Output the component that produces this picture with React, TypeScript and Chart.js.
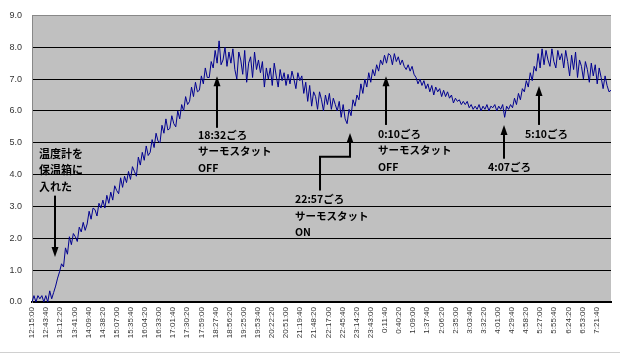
import { useEffect, useRef } from 'react';
import { Chart, registerables } from 'chart.js';

Chart.register(...registerables);

// x-axis tick labels (one every 28:40)
const TICK_LABELS = [
  '12:15:00', '12:43:40', '13:12:20', '13:41:00', '14:09:40', '14:38:20', '15:07:00', '15:35:40',
  '16:04:20', '16:33:00', '17:01:40', '17:30:20', '17:59:00', '18:27:40', '18:56:20', '19:25:00',
  '19:53:40', '20:22:20', '20:51:00', '21:19:40', '21:48:20', '22:17:00', '22:45:40', '23:14:20',
  '23:43:00', '0:11:40', '0:40:20', '1:09:00', '1:37:40', '2:06:20', '2:35:00', '3:03:40',
  '3:32:20', '4:01:00', '4:29:40', '4:58:20', '5:27:00', '5:55:40', '6:24:20', '6:53:00', '7:21:40',
];
const TICK_SEC = 1720; // 28 min 40 s between labels
const SAMPLE_SEC = 240; // one reading every 4 minutes

// temperature readings from 12:15:00
const TEMPS = [
  0.0, 0.2, 0.0, 0.2, 0.1, 0.2, 0.0, 0.2, 0.0, 0.35,
  0.1, 0.3, 0.5, 0.75, 0.95, 1.2, 1.1, 1.7, 1.5, 2.05,
  1.8, 2.15, 2.05, 1.9, 2.35, 2.2, 2.5, 2.25, 2.45, 2.85,
  2.6, 2.95, 2.9, 2.7, 3.1, 2.95, 3.2, 2.95, 3.35, 3.1,
  3.45, 3.2, 3.65, 3.5, 3.4, 3.9, 3.6, 3.95, 3.75, 4.1,
  3.85, 4.25, 4.1, 3.95, 4.55, 4.3, 4.7, 4.45, 4.9, 4.6,
  4.7, 5.1, 4.85, 5.3, 5.05, 5.0, 5.55, 5.3, 5.75, 5.4,
  5.45, 5.85, 5.6, 5.5, 6.0, 5.75, 6.2, 6.0, 6.45, 6.2,
  6.3, 6.75, 6.45, 6.9, 6.6, 6.65, 7.1, 6.85, 7.35, 7.05,
  7.05, 7.55, 7.35, 7.9, 7.5, 8.2, 7.45, 7.6, 8.0, 7.4,
  7.85, 7.5, 7.95, 7.3, 7.0, 7.85, 7.6, 7.15, 7.9, 6.9,
  7.5, 7.7, 7.05, 7.85, 7.3, 7.6, 7.2, 7.55, 6.75, 7.35,
  7.0, 7.35, 6.8, 7.5, 7.1, 6.75, 7.3, 6.95, 7.2, 6.8,
  7.15, 6.85, 7.25, 7.0, 6.7, 7.2, 6.95, 7.1, 6.55, 6.9,
  6.3, 6.8, 6.15, 6.6, 6.45, 6.05, 6.6, 6.35, 6.0, 6.5,
  6.2, 6.55, 6.05, 6.4, 6.2, 6.0, 6.3, 5.8, 6.2, 5.75,
  5.6, 6.05, 5.85, 6.35, 6.15, 6.5, 6.35, 6.85, 6.55, 7.0,
  6.75, 7.2, 6.9, 7.3, 7.1, 7.45, 7.25, 7.6, 7.45, 7.75,
  7.5, 7.8, 7.75, 7.45, 7.8, 7.55, 7.7, 7.45, 7.6, 7.4,
  7.3, 7.45, 7.25, 7.4, 7.15, 7.05, 6.85, 7.0, 6.8, 6.95,
  6.7, 6.85, 6.6, 6.8, 6.5, 6.75, 6.6, 6.7, 6.45, 6.65,
  6.45, 6.6, 6.4, 6.5, 6.25, 6.4, 6.3, 6.35, 6.2, 6.3,
  6.2, 6.3, 6.1, 6.2, 6.05, 6.15, 6.05, 6.2, 6.0, 6.15,
  6.05, 6.2, 6.0, 6.15, 6.1, 6.2, 6.0, 6.15, 6.05, 6.2,
  5.8, 6.15, 6.05, 6.2, 6.1, 6.4, 6.2, 6.55, 6.35, 6.7,
  6.6, 6.95, 6.75, 7.2, 6.95, 7.4, 7.25, 7.8, 7.35, 7.95,
  7.45, 7.9, 7.6, 7.4, 7.95, 7.55, 7.35, 7.9, 7.6, 7.8,
  7.35, 7.9, 7.55, 7.1, 7.75, 7.3, 7.85, 7.05, 7.6, 7.4,
  7.0, 7.55, 7.3, 6.9, 7.5, 7.1, 7.45, 6.85, 7.35, 7.05,
  6.7, 7.1, 6.8, 6.6, 6.65,
];

// annotations: text anchor (seconds, value) and arrow path (seconds, value), last point = tip
const NOTE_LINES = [
  ['温度計を', '保温箱に', '入れた'],
  ['18:32ごろ', 'サーモスタット', 'OFF'],
  ['22:57ごろ', 'サーモスタット', 'ON'],
  ['0:10ごろ', 'サーモスタット', 'OFF'],
  ['4:07ごろ'],
  ['5:10ごろ'],
];
const NOTE_AT: [number, number][] = [
  [853, 4.66], [20230, 5.25], [32052, 3.22], [42167, 5.28], [55573, 4.25], [60082, 5.28],
];
const NOTE_ARROWS: [number, number][][] = [
  [[2803, 3.34], [2803, 1.41]],
  [[22546, 5.47], [22546, 7.09]],
  [[35099, 3.5], [35099, 4.56], [38755, 4.56], [38755, 5.31]],
  [[43142, 5.56], [43142, 7.09]],
  [[57522, 4.5], [57522, 5.56]],
  [[61788, 5.56], [61788, 6.78]],
];

const bgPlugin = {
  id: 'plotBg',
  beforeDraw(chart: any) {
    const { ctx, chartArea: a } = chart;
    ctx.save();
    ctx.fillStyle = '#c0c0c0';
    ctx.fillRect(a.left, a.top, a.right - a.left, a.bottom - a.top);
    ctx.restore();
  },
  afterDraw(chart: any) {
    const { ctx } = chart;
    ctx.save();
    ctx.fillStyle = '#d0d0d0';
    ctx.fillRect(0, chart.height - 3, chart.width, 1);
    ctx.restore();
  },
};

const notesPlugin = {
  id: 'notes',
  afterDraw(chart: any) {
    const { ctx } = chart;
    const xs = chart.scales.x;
    const ys = chart.scales.y;
    ctx.save();
    ctx.fillStyle = '#000';
    ctx.strokeStyle = '#000';
    ctx.textBaseline = 'middle';
    ctx.textAlign = 'left';
    NOTE_LINES.forEach((lines, n) => {
      const [tx, ty] = NOTE_AT[n];
      const px = xs.getPixelForValue(tx);
      const py = ys.getPixelForValue(ty);
      ctx.font = (n === 0 ? 'bold 11px' : 'bold 10.5px') + ' "Noto Sans CJK JP", sans-serif';
      lines.forEach((t, k) => ctx.fillText(t, px, py + k * 16.5));
      const pts = NOTE_ARROWS[n].map(([x, y]) => [xs.getPixelForValue(x), ys.getPixelForValue(y)]);
      ctx.lineWidth = 2;
      ctx.beginPath();
      const last = pts[pts.length - 1];
      const prev = pts[pts.length - 2];
      const ang = Math.atan2(last[1] - prev[1], last[0] - prev[0]);
      const headLen = 10;
      pts.forEach((p, k) => {
        let q = p;
        if (k === pts.length - 1) q = [p[0] - Math.cos(ang) * headLen * 0.8, p[1] - Math.sin(ang) * headLen * 0.8];
        if (k === 0) ctx.moveTo(q[0], q[1]);
        else ctx.lineTo(q[0], q[1]);
      });
      ctx.stroke();
      ctx.beginPath();
      ctx.moveTo(last[0], last[1]);
      ctx.lineTo(last[0] - Math.cos(ang) * headLen + Math.sin(ang) * 3.5, last[1] - Math.sin(ang) * headLen - Math.cos(ang) * 3.5);
      ctx.lineTo(last[0] - Math.cos(ang) * headLen - Math.sin(ang) * 3.5, last[1] - Math.sin(ang) * headLen + Math.cos(ang) * 3.5);
      ctx.closePath();
      ctx.fill();
    });
    ctx.restore();
  },
};

export default function App() {
  const ref = useRef<HTMLCanvasElement>(null);
  useEffect(() => {
    const chart = new Chart(ref.current as HTMLCanvasElement, {
      type: 'line',
      data: {
        datasets: [
          {
            data: TEMPS.map((v, i) => ({ x: i * SAMPLE_SEC, y: v })),
            borderColor: '#000090',
            borderWidth: 1,
            pointRadius: 0,
            tension: 0,
          },
        ],
      },
      options: {
        animation: false,
        responsive: false,
        maintainAspectRatio: false,
        layout: { padding: { top: 13, right: 9, left: 0, bottom: 0 } },
        plugins: { legend: { display: false }, tooltip: { enabled: false } },
        scales: {
          x: {
            type: 'linear',
            min: 0,
            max: (TEMPS.length - 1) * SAMPLE_SEC,
            afterBuildTicks: (s: any) => {
              s.ticks = TICK_LABELS.map((_, i) => ({ value: i * TICK_SEC }));
            },
            afterFit: (s: any) => {
              s.height = 53;
            },
            grid: { display: false, drawTicks: false },
            border: { display: true, color: '#000', width: 2 },
            ticks: {
              autoSkip: false,
              minRotation: 90,
              maxRotation: 90,
              padding: 5,
              color: '#333',
              font: { family: '"Liberation Sans", Arial, sans-serif', size: 8 },
              callback: (_v: any, i: number) => TICK_LABELS[i],
            },
          },
          y: {
            min: 0,
            max: 9,
            afterFit: (s: any) => {
              s.width = 32;
            },
            grid: {
              drawTicks: false,
              lineWidth: 1,
              color: (c: any) => (c.tick && c.tick.value === 9 ? '#888' : '#000'),
            },
            border: { color: '#888', width: 1 },
            ticks: {
              stepSize: 1,
              padding: 10,
              color: '#333',
              font: { family: '"Liberation Sans", Arial, sans-serif', size: 9 },
              callback: (v: any) => Number(v).toFixed(1),
            },
          },
        },
      },
      plugins: [bgPlugin, notesPlugin],
    } as any);
    return () => chart.destroy();
  }, []);
  return (
    <div style={{ position: 'fixed', left: 0, top: 0, width: 620, height: 355, background: '#fff' }}>
      <canvas ref={ref} width={620} height={355} style={{ display: 'block' }} />
    </div>
  );
}
